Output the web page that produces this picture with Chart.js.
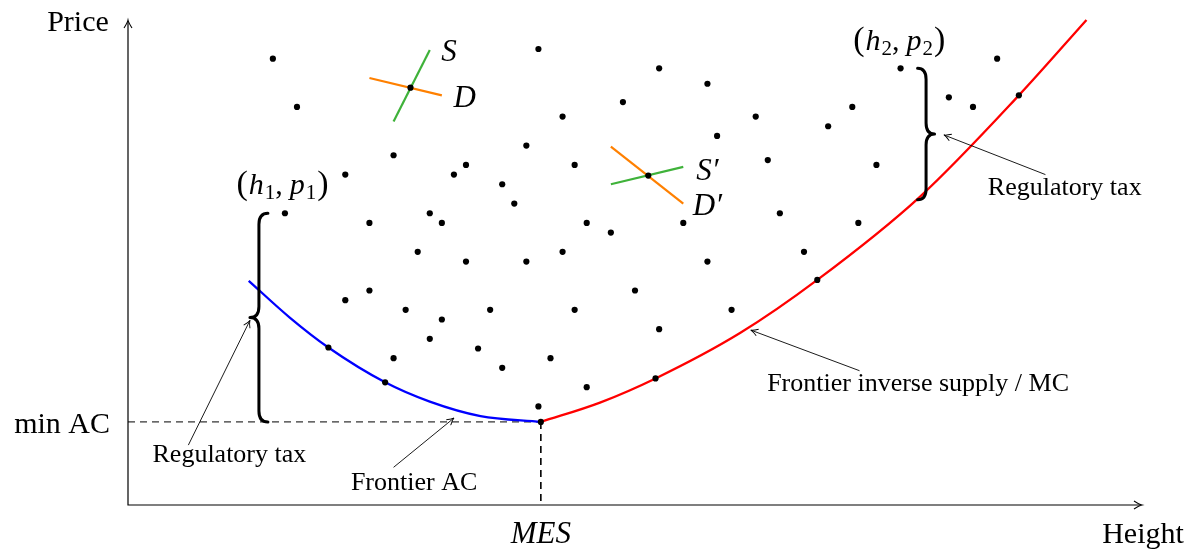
<!DOCTYPE html>
<html><head><meta charset="utf-8">
<script src="https://cdn.jsdelivr.net/npm/chart.js@4"></script>
<style>html,body{margin:0;padding:0;background:#fff;overflow:hidden}#wrap{width:1191px;height:552px}</style>
</head><body><div id="wrap"><canvas id="c" width="1191" height="552"></canvas></div>
<script>
// ---------- data (arbitrary units) ----------
const xRange = [0, 8.4];
const yRange = [-0.02, 5.0];
const mes = 3.42, minAC = 0.84;

const dotX = [1.20,1.40,2.20,1.80,1.30,2.00,2.50,2.60,3.20,2.40,2.80,3.30,3.60,1.80,2.00,2.30,3.00,3.70,2.60,2.50,2.90,2.20,3.50,3.10,3.40,3.80,4.00,4.60,5.40,6.05,4.80,5.60,4.20,5.00,4.40,3.80,3.40,4.40,4.80,4.10,3.60,4.88,3.30,2.80,2.70,3.70,3.10,6.40,7.20,6.00,5.80,6.80,7.00,6.20,5.20,5.30];
const dotY = [4.60,4.10,3.60,3.40,3.00,2.90,3.00,2.90,3.10,2.60,2.50,2.50,2.60,2.10,2.20,2.00,2.00,2.00,1.90,1.70,1.60,1.50,1.50,1.40,1.00,2.90,2.80,2.90,3.00,2.90,2.50,2.60,2.20,2.00,1.80,1.20,4.70,4.50,4.34,4.15,4.00,3.80,3.70,3.50,3.40,3.50,3.30,4.50,4.60,4.10,3.90,4.20,4.10,3.50,4.00,3.55];

const frontierDotX = [1.66,2.13,3.42,4.37,5.71,7.38];
const frontierDotY = [1.61,1.25,0.84,1.29,2.31,4.22];

const acX = [1.00,1.34,1.66,2.13,2.50,2.92,3.42];
const acY = [2.30,1.92,1.61,1.25,1.05,0.90,0.84];
const mcX = [3.42,3.91,4.37,5.07,5.71,6.56,7.38,7.94];
const mcY = [0.84,1.04,1.29,1.76,2.31,3.17,4.22,5.00];

const sX = [2.20,2.50],  sY = [3.95,4.69];
const dX = [2.00,2.60],  dY = [4.40,4.22];
const s2X = [4.00,4.60], s2Y = [3.30,3.48];
const d2X = [4.00,4.60], d2Y = [3.69,3.10];
const eqX = [2.34,4.31], eqY = [4.30,3.39];

const h1 = 1.30, p1 = 3.00, h2 = 6.40, p2 = 4.50, mcAtBrace2 = 3.14;

// ---------- helpers ----------
const pts = (xs, ys) => xs.map((x, i) => ({x, y: ys[i]}));
const FONT = "'Liberation Serif','Times New Roman',serif";

const annotations = {
  texts: [
    {t:'Regulatory tax', x:7.76, y:3.19},
    {t:'Regulatory tax', x:0.84, y:0.42},
    {t:'Frontier AC', x:2.37, y:0.14},
    {t:'Frontier inverse supply / MC', x:6.545, y:1.16}
  ],
  arrows: [
    {from:[7.60,3.40], to:[6.76,3.81]},
    {from:[0.50,0.60], to:[1.01,1.89]},
    {from:[2.20,0.37], to:[2.70,0.88]},
    {from:[6.06,1.37], to:[5.16,1.79]}
  ]
};

function arrowHead(ctx, x, y, ang, len, half) {
  ctx.save(); ctx.translate(x, y); ctx.rotate(ang);
  ctx.beginPath();
  ctx.moveTo(-len, -half);
  ctx.quadraticCurveTo(-len*0.35, -half*0.15, 0, 0);
  ctx.quadraticCurveTo(-len*0.35, half*0.15, -len, half);
  ctx.stroke(); ctx.restore();
}

function brace(ctx, x, yTop, yBot, dir, amp) {
  const ym = (yTop + yBot) / 2, r = 11, xs = x + dir*amp/2, xt = x + dir*amp;
  ctx.beginPath();
  ctx.moveTo(x, yTop);
  ctx.quadraticCurveTo(xs, yTop, xs, yTop + r);
  ctx.lineTo(xs, ym - r);
  ctx.quadraticCurveTo(xs, ym, xt, ym);
  ctx.quadraticCurveTo(xs, ym, xs, ym + r);
  ctx.lineTo(xs, yBot - r);
  ctx.quadraticCurveTo(xs, yBot, x, yBot);
  ctx.stroke();
}

function rich(ctx, parts, cx, by) {
  let w = 0;
  parts.forEach(p => { if (p.t) { ctx.font = p.f; p.w = ctx.measureText(p.t).width; } else p.w = p.gap; w += p.w; });
  let x = cx - w/2;
  ctx.textAlign = 'left'; ctx.textBaseline = 'alphabetic';
  parts.forEach(p => { if (p.t) { ctx.font = p.f; ctx.fillText(p.t, x, by + (p.dy||0)); } x += p.w; });
}

function pairLabel(ctx, sub, cx, by) {
  const up = '34px ' + FONT, it = 'italic 30px ' + FONT, sm = '21px ' + FONT, rm = '30px ' + FONT;
  rich(ctx, [
    {t:'(', f:up}, {gap:1}, {t:'h', f:it}, {gap:1}, {t:sub, f:sm, dy:5}, {t:',', f:rm}, {gap:7},
    {t:'p', f:it}, {gap:1}, {t:sub, f:sm, dy:5}, {gap:1}, {t:')', f:up}
  ], cx, by);
}

const overlay = {
  id: 'overlay',
  beforeDatasetsDraw(chart) {
    const {ctx, chartArea: a} = chart;
    ctx.save();
    ctx.strokeStyle = '#000'; ctx.lineWidth = 1.2;
    ctx.beginPath();
    ctx.moveTo(a.left, a.top + 1); ctx.lineTo(a.left, a.bottom); ctx.lineTo(a.right - 1, a.bottom);
    ctx.stroke();
    ctx.lineWidth = 1.1;
    arrowHead(ctx, a.left, a.top, -Math.PI/2, 8, 4);
    arrowHead(ctx, a.right, a.bottom, 0, 8, 4);
    ctx.restore();
  },
  afterDatasetsDraw(chart) {
    const {ctx, chartArea: a, scales: {x: xs, y: ys}} = chart;
    const X = v => xs.getPixelForValue(v), Y = v => ys.getPixelForValue(v);
    ctx.save();
    // braces
    ctx.strokeStyle = '#000'; ctx.lineWidth = 3; ctx.lineCap = 'round'; ctx.lineJoin = 'round';
    brace(ctx, X(h1) - 17, Y(p1), Y(minAC), -1, 18);
    brace(ctx, X(h2) + 17, Y(p2), Y(mcAtBrace2), 1, 17);
    // annotation arrows
    ctx.lineWidth = 0.9; ctx.lineCap = 'butt';
    annotations.arrows.forEach(ar => {
      const x0 = X(ar.from[0]), y0 = Y(ar.from[1]), x1 = X(ar.to[0]), y1 = Y(ar.to[1]);
      ctx.beginPath(); ctx.moveTo(x0, y0); ctx.lineTo(x1, y1); ctx.stroke();
      arrowHead(ctx, x1, y1, Math.atan2(y1 - y0, x1 - x0), 7, 3.5);
    });
    // texts
    ctx.fillStyle = '#000'; ctx.textBaseline = 'alphabetic';
    ctx.font = '26px ' + FONT; ctx.textAlign = 'center';
    annotations.texts.forEach(t => ctx.fillText(t.t, X(t.x), Y(t.y)));
    // axis titles
    ctx.font = '30px ' + FONT;
    ctx.textAlign = 'center'; ctx.fillText('Price', a.left - 50, a.top + 11);
    ctx.textAlign = 'right'; ctx.fillText('min AC', a.left - 18, Y(minAC) + 11);
    ctx.textAlign = 'center'; ctx.fillText('Height', a.right + 1, a.bottom + 38);
    ctx.font = 'italic 31px ' + FONT;
    ctx.fillText('MES', X(mes), a.bottom + 38);
    // S / D labels
    ctx.font = 'italic 31px ' + FONT;
    ctx.fillText('S', X(2.66), Y(4.58));
    ctx.fillText('D', X(2.79), Y(4.10));
    ctx.fillText('S\u2032', X(4.80), Y(3.34));
    ctx.fillText('D\u2032', X(4.80), Y(2.98));
    // (h, p) labels
    pairLabel(ctx, '1', X(1.28), Y(3.20));
    pairLabel(ctx, '2', X(6.39), Y(4.69));
    ctx.restore();
  }
};

const dotStyle = {showLine:false, pointRadius:3.1, pointHoverRadius:3.1, pointBackgroundColor:'#000', pointBorderWidth:0};
const lineStyle = (color, w) => ({showLine:true, borderColor:color, borderWidth:w, pointRadius:0, pointHoverRadius:0, fill:false, clip:false});

new Chart(document.getElementById('c'), {
  type: 'scatter',
  data: {
    datasets: [
      {label:'firms', data: pts(dotX, dotY), ...dotStyle, order:1},
      {label:'frontier firms', data: pts(frontierDotX, frontierDotY), ...dotStyle, order:1},
      {label:'equilibria', data: pts(eqX, eqY), ...dotStyle, order:1},
      {label:'S', data: pts(sX, sY), ...lineStyle('#3fb23a', 2.2), order:2},
      {label:'D', data: pts(dX, dY), ...lineStyle('#ff8000', 2.2), order:2},
      {label:"S'", data: pts(s2X, s2Y), ...lineStyle('#3fb23a', 2.2), order:2},
      {label:"D'", data: pts(d2X, d2Y), ...lineStyle('#ff8000', 2.2), order:2},
      {label:'Frontier AC', data: pts(acX, acY), ...lineStyle('#0000ff', 2.3), cubicInterpolationMode:'monotone', tension:0.4, order:3},
      {label:'Frontier MC', data: pts(mcX, mcY), ...lineStyle('#ff0000', 2.3), cubicInterpolationMode:'monotone', tension:0.4, order:3},
      {label:'min AC', data: [{x:xRange[0], y:minAC}, {x:mes, y:minAC}], ...lineStyle('#000', 1), borderDash:[7,5], order:4},
      {label:'MES', data: [{x:mes, y:minAC}, {x:mes, y:yRange[0]}], ...lineStyle('#000', 1.6), borderDash:[7,5], order:4}
    ]
  },
  options: {
    responsive: false, animation: false, devicePixelRatio: 1,
    layout: {padding: {left:128, right:49, top:20, bottom:47}},
    scales: {
      x: {type:'linear', min:xRange[0], max:xRange[1], display:false},
      y: {type:'linear', min:yRange[0], max:yRange[1], display:false}
    },
    plugins: {legend:{display:false}, tooltip:{enabled:false}}
  },
  plugins: [overlay]
});
</script></body></html>
